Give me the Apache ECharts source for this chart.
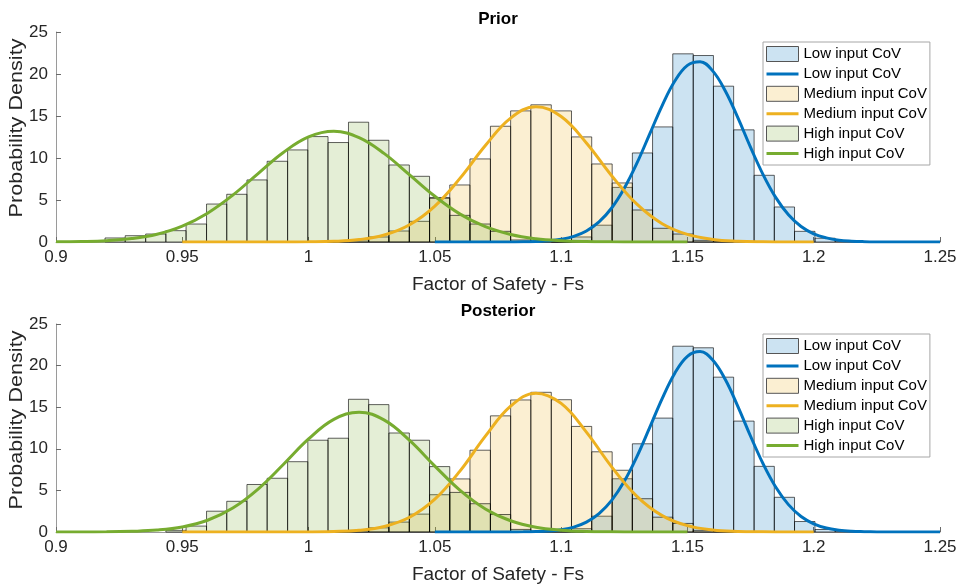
<!DOCTYPE html>
<html>
<head>
<meta charset="utf-8">
<script src="https://cdn.jsdelivr.net/npm/echarts/dist/echarts.min.js"></script>
<style>
  html, body { margin: 0; padding: 0; background: #fff; }
  #chart { width: 961px; height: 585px; }
</style>
</head>
<body>
<div id="chart"></div>
<script>
// Histogram bin edges shared by all three samples
const binEdges = [0.9194, 0.9274, 0.9355, 0.9435, 0.9515, 0.9596, 0.9676, 0.9756, 0.9836, 0.9917,
  0.9997, 1.0077, 1.0158, 1.0238, 1.0318, 1.0399, 1.0479, 1.0559, 1.0639, 1.0720,
  1.0800, 1.0880, 1.0961, 1.1041, 1.1121, 1.1202, 1.1282, 1.1362, 1.1442, 1.1523,
  1.1603, 1.1683, 1.1764, 1.1844, 1.1924, 1.2005, 1.2085, 1.2165];

// Probability density per bin (prior)
const lowPrior = [0,0,0,0,0,0,0,0,0,0, 0,0,0,0,0,0,0,0,0,0,
  0,0,0.1,0.6,2.0,6.5,10.6,13.7,22.4,22.2, 18.55,13.35,7.94,4.17,1.27,0.45,0.1];
const medPrior = [0,0,0,0,0,0,0,0,0,0, 0.05,0.1,0.25,0.6,1.31,2.46,5.3,6.79,9.89,13.78,
  15.61,16.33,15.61,12.51,9.29,7.03,3.81,1.63,0.95,0.2, 0.1,0,0,0,0,0,0];
const highPrior = [0.48,0.75,0.95,1.35,2.14,4.52,5.68,7.39,9.61,10.96, 12.55,11.84,14.26,12.11,9.17,7.82,5.2,3.17,2.14,1.27,
  0.24,0.1,0.05,0,0,0,0,0,0,0, 0,0,0,0,0,0,0];

// Probability density per bin (posterior)
const lowPost = [0,0,0,0,0,0,0,0,0,0, 0,0,0,0,0,0,0,0,0,0,
  0,0,0.1,0.4,1.9,6.4,10.6,13.69,22.33,22.14, 18.61,13.33,7.89,4.17,1.26,0.3,0.1];
const medPost = [0,0,0,0,0,0,0,0,0,0, 0,0.1,0.2,0.5,1.19,2.15,4.48,6.38,9.83,13.96,
  15.87,16.79,15.9,12.69,9.64,7.42,4.0,1.78,1.03,0.2, 0.05,0,0,0,0,0,0];
const highPost = [0,0,0,0.2,0.71,2.5,3.69,5.71,6.46,8.45, 11.03,11.27,15.95,15.31,11.9,11.03,7.86,4.76,3.4,2.1,
  0.31,0.1,0,0,0,0,0,0,0,0, 0,0,0,0,0,0,0];

// Fitted density curves [Fs, density]
const highPriorFit = [[0.90,0.02],[0.91,0.06],[0.92,0.16],[0.93,0.41],[0.94,0.93],[0.95,1.89],[0.96,3.43],[0.97,5.58],
  [0.98,8.15],[0.99,10.66],[1.00,12.51],[1.01,13.17],[1.02,12.43],[1.03,10.52],[1.04,7.99],[1.05,5.44],[1.06,3.32],
  [1.07,1.82],[1.08,0.89],[1.09,0.39],[1.10,0.16],[1.11,0.06],[1.12,0.02],[1.13,0],[1.14,0],[1.15,0]];
const medPriorFit = [[0.95,0],[0.96,0],[0.97,0],[0.98,0],[0.99,0],[1.00,0.02],[1.01,0.08],[1.02,0.29],[1.03,0.83],
  [1.04,2.05],[1.05,4.27],[1.06,7.60],[1.07,11.48],[1.08,14.75],[1.09,16.10],[1.10,14.94],[1.11,11.79],[1.12,7.89],
  [1.13,4.50],[1.14,2.18],[1.15,0.90],[1.16,0.31],[1.17,0.09],[1.18,0.02],[1.19,0],[1.20,0]];
const lowPriorFit = [[1.050,0],[1.055,0],[1.060,0],[1.065,0],[1.070,0],[1.075,0],[1.080,0.01],[1.085,0.02],[1.090,0.06],
  [1.095,0.14],[1.100,0.32],[1.105,0.67],[1.110,1.31],[1.115,2.39],[1.120,4.05],[1.125,6.40],[1.130,9.38],[1.135,12.81],
  [1.140,16.24],[1.145,19.16],[1.150,21.03],[1.155,21.46],[1.160,20.37],[1.165,17.98],[1.170,14.77],[1.175,11.26],
  [1.180,8.00],[1.185,5.28],[1.190,3.24],[1.195,1.85],[1.200,0.98],[1.205,0.49],[1.210,0.22],[1.215,0.10],[1.220,0.04],
  [1.225,0.01],[1.230,0],[1.235,0],[1.240,0],[1.245,0],[1.250,0]];

const highPostFit = [[0.90,0],[0.91,0.01],[0.92,0.02],[0.93,0.08],[0.94,0.23],[0.95,0.61],[0.96,1.41],[0.97,2.88],
  [0.98,5.16],[0.99,8.11],[1.00,11.18],[1.01,13.54],[1.02,14.40],[1.03,13.44],[1.04,11.01],[1.05,7.92],[1.06,5.00],
  [1.07,2.77],[1.08,1.35],[1.09,0.57],[1.10,0.22],[1.11,0.07],[1.12,0.02],[1.13,0],[1.14,0],[1.15,0]];
const medPostFit = [[0.95,0],[0.96,0],[0.97,0],[0.98,0],[0.99,0],[1.00,0.01],[1.01,0.06],[1.02,0.21],[1.03,0.67],
  [1.04,1.77],[1.05,3.94],[1.06,7.35],[1.07,11.52],[1.08,15.13],[1.09,16.69],[1.10,15.46],[1.11,12.01],[1.12,7.83],
  [1.13,4.29],[1.14,1.97],[1.15,0.76],[1.16,0.25],[1.17,0.07],[1.18,0.02],[1.19,0],[1.20,0]];
const lowPostFit = [[1.050,0],[1.055,0],[1.060,0],[1.065,0],[1.070,0],[1.075,0],[1.080,0.01],[1.085,0.02],[1.090,0.05],
  [1.095,0.12],[1.100,0.28],[1.105,0.59],[1.110,1.19],[1.115,2.21],[1.120,3.80],[1.125,6.09],[1.130,9.06],[1.135,12.51],
  [1.140,16.03],[1.145,19.09],[1.150,21.11],[1.155,21.68],[1.160,20.68],[1.165,18.32],[1.170,15.07],[1.175,11.51],
  [1.180,8.17],[1.185,5.38],[1.190,3.29],[1.195,1.87],[1.200,0.99],[1.205,0.48],[1.210,0.22],[1.215,0.09],[1.220,0.04],
  [1.225,0.01],[1.230,0],[1.235,0],[1.240,0],[1.245,0],[1.250,0]];

const xTickLabels = ['0.9', '0.95', '1', '1.05', '1.1', '1.15', '1.2', '1.25'];
const yTickLabels = ['0', '5', '10', '15', '20', '25'];
const panelTitles = ['Prior', 'Posterior'];
const groupNames = ['Low input CoV', 'Medium input CoV', 'High input CoV'];

const FONT = '"Liberation Sans", Arial, Helvetica, sans-serif';
const lineColors = ['#0072BD', '#EDB120', '#77AC30'];
const faceColors = ['rgba(0,114,189,0.2)', 'rgba(237,177,32,0.2)', 'rgba(119,172,48,0.2)'];
const edgeColor = 'rgba(0,0,0,0.62)';
// legend swatch for a fitted curve: a 3px bar inside a 32x15 box
const lineIcon = 'path://M0,0M32,15M0,6L32,6L32,9L0,9Z';

const panels = [
  { hist: [lowPrior, medPrior, highPrior], fits: [lowPriorFit, medPriorFit, highPriorFit] },
  { hist: [lowPost, medPost, highPost], fits: [lowPostFit, medPostFit, highPostFit] }
];
const gridTops = [32, 324];
const plotHeight = 210;

function histSeries(name, heights, gi, ci) {
  const bins = [];
  heights.forEach((h, k) => { if (h > 0) bins.push([binEdges[k], binEdges[k + 1], h]); });
  return {
    type: 'custom', name: name, xAxisIndex: gi, yAxisIndex: gi,
    itemStyle: { color: faceColors[ci], borderColor: edgeColor, borderWidth: 1 },
    encode: { x: [0, 1], y: 2 },
    data: bins,
    renderItem: function (params, api) {
      const p0 = api.coord([api.value(0), api.value(2)]);
      const p1 = api.coord([api.value(1), 0]);
      return {
        type: 'rect',
        shape: { x: p0[0], y: p0[1], width: p1[0] - p0[0], height: p1[1] - p0[1] },
        style: { fill: faceColors[ci], stroke: edgeColor, lineWidth: 1 }
      };
    }
  };
}

function fitSeries(name, pts, gi, ci) {
  return {
    type: 'line', name: name, xAxisIndex: gi, yAxisIndex: gi,
    data: pts, smooth: 0.4,
    symbol: 'none', showSymbol: false,
    lineStyle: { color: lineColors[ci], width: 3 },
    itemStyle: { color: lineColors[ci] }
  };
}

const grids = [], xAxes = [], yAxes = [], series = [], titles = [], legends = [], graphics = [];

panels.forEach((panel, gi) => {
  grids.push({ left: 56, width: 884, top: gridTops[gi], height: plotHeight });
  titles.push({
    text: panelTitles[gi], left: 498, top: gridTops[gi] - 21, textAlign: 'center', padding: 0,
    textStyle: { fontFamily: FONT, fontSize: 17, fontWeight: 'bold', color: '#000' }
  });
  xAxes.push({
    gridIndex: gi, type: 'value', min: 0.9, max: 1.25, interval: 0.05,
    name: 'Factor of Safety - Fs', nameLocation: 'middle', nameGap: 33,
    nameTextStyle: { fontFamily: FONT, fontSize: 19, color: '#262626' },
    axisLine: { onZero: false, lineStyle: { color: '#9a9a9a', width: 1 } },
    axisTick: { inside: true, length: 5, lineStyle: { color: '#6a6a6a' } },
    axisLabel: {
      fontFamily: FONT, fontSize: 17, color: '#262626', margin: 7,
      formatter: function (v) { return xTickLabels[Math.round((v - 0.9) / 0.05)]; }
    },
    splitLine: { show: false }
  });
  yAxes.push({
    gridIndex: gi, type: 'value', min: 0, max: 25, interval: 5,
    axisLine: { show: true, lineStyle: { color: '#9a9a9a', width: 1 } },
    axisTick: { show: true, inside: true, length: 5, lineStyle: { color: '#6a6a6a' } },
    axisLabel: {
      fontFamily: FONT, fontSize: 17, color: '#262626', margin: 8,
      formatter: function (v) { return yTickLabels[Math.round(v / 5)]; }
    },
    splitLine: { show: false }
  });
  graphics.push({
    type: 'text', x: 17, y: gridTops[gi] + 96, rotation: Math.PI / 2, scaleX: 1.2,
    style: {
      text: 'Probability Density', fill: '#262626', font: '18px ' + FONT,
      textAlign: 'center', textVerticalAlign: 'middle'
    }
  });
  const legendData = [];
  groupNames.forEach((g, ci) => {
    series.push(histSeries(g, panel.hist[ci], gi, ci));
    series.push(fitSeries(g + ' ', panel.fits[ci], gi, ci));
    legendData.push({ name: g, icon: 'rect', itemStyle: { color: faceColors[ci], borderColor: '#555', borderWidth: 1 } });
    legendData.push({ name: g + ' ', icon: lineIcon, itemStyle: { color: lineColors[ci], borderWidth: 0 } });
  });
  legends.push({
    orient: 'vertical', left: 763, top: gridTops[gi] + 10,
    data: legendData, selectedMode: false,
    itemWidth: 32, itemHeight: 15, itemGap: 4.4, itemTextGap: 5,
    padding: [4, 3, 4, 3],
    borderColor: '#a6a6a6', borderWidth: 1, backgroundColor: '#fff',
    textStyle: { fontFamily: FONT, fontSize: 15, color: '#000' },
    formatter: function (n) { return n.trim(); }
  });
});

const chart = echarts.init(document.getElementById('chart'), null, { renderer: 'canvas' });
chart.setOption({
  animation: false,
  backgroundColor: '#fff',
  title: titles,
  grid: grids,
  xAxis: xAxes,
  yAxis: yAxes,
  legend: legends,
  graphic: graphics,
  series: series
});
</script>
</body>
</html>
